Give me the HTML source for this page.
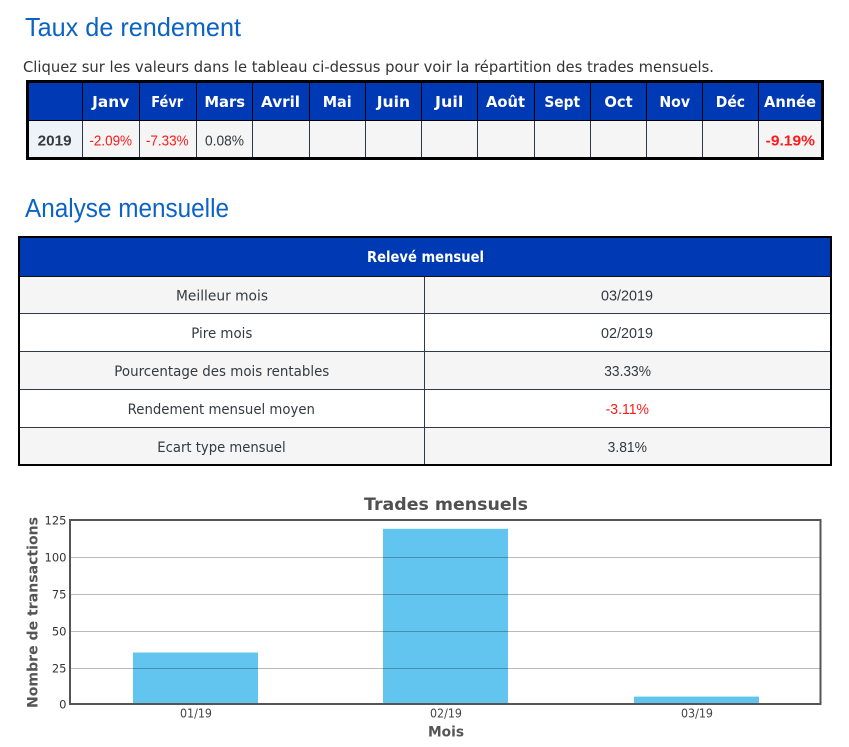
<!DOCTYPE html>
<html>
<head>
<meta charset="utf-8">
<style>
  html,body{margin:0;padding:0;background:#fff;}
  svg{display:block;}
  .h{font-family:"Liberation Sans",sans-serif;fill:#0b63c6;}
  .p{font-family:"DejaVu Sans",sans-serif;fill:#333;}
  .th{font-family:"DejaVu Sans",sans-serif;font-weight:bold;fill:#fff;font-size:15px;}
  .num{font-family:"Liberation Sans",sans-serif;font-size:15px;fill:#343a40;}
  .red{fill:#ff1a1a;}
  .lbl{font-family:"DejaVu Sans",sans-serif;font-size:14.5px;fill:#343a40;}
  .ct{font-family:"DejaVu Sans",sans-serif;}
</style>
</head>
<body>
<svg width="849" height="747" viewBox="0 0 849 747" xmlns="http://www.w3.org/2000/svg">
  <!-- Headings -->
  <text class="h" x="25" y="36" font-size="26" textLength="216" lengthAdjust="spacingAndGlyphs">Taux de rendement</text>
  <text class="p" x="23" y="72" font-size="14.7" textLength="691" lengthAdjust="spacingAndGlyphs">Cliquez sur les valeurs dans le tableau ci-dessus pour voir la répartition des trades mensuels.</text>

  <!-- Top table -->
  <rect x="29" y="83" width="792" height="37" fill="#0039b4"/>
  <rect x="29" y="121" width="792" height="36" fill="#f5f5f5"/>
  <rect x="29" y="121" width="53" height="36" fill="#eef3fa"/>
  <rect x="29" y="120" width="792" height="1" fill="#000"/>
  <g fill="#000">
    <rect x="82" y="83" width="1" height="37"/><rect x="139" y="83" width="1" height="37"/>
    <rect x="196" y="83" width="1" height="37"/><rect x="252" y="83" width="1" height="37"/>
    <rect x="309" y="83" width="1" height="37"/><rect x="365" y="83" width="1" height="37"/>
    <rect x="421" y="83" width="1" height="37"/><rect x="477" y="83" width="1" height="37"/>
    <rect x="534" y="83" width="1" height="37"/><rect x="590" y="83" width="1" height="37"/>
    <rect x="646" y="83" width="1" height="37"/><rect x="702" y="83" width="1" height="37"/>
    <rect x="758" y="83" width="1" height="37"/>
  </g>
  <g fill="#2b3648">
    <rect x="82" y="121" width="1" height="36"/><rect x="139" y="121" width="1" height="36"/>
    <rect x="196" y="121" width="1" height="36"/><rect x="252" y="121" width="1" height="36"/>
    <rect x="309" y="121" width="1" height="36"/><rect x="365" y="121" width="1" height="36"/>
    <rect x="421" y="121" width="1" height="36"/><rect x="477" y="121" width="1" height="36"/>
    <rect x="534" y="121" width="1" height="36"/><rect x="590" y="121" width="1" height="36"/>
    <rect x="646" y="121" width="1" height="36"/><rect x="702" y="121" width="1" height="36"/>
    <rect x="758" y="121" width="1" height="36"/>
  </g>
  <rect x="27.5" y="81.5" width="795" height="77" fill="none" stroke="#000" stroke-width="3"/>

  <g text-anchor="middle">
    <text class="th" x="110.7" y="107" textLength="37" lengthAdjust="spacingAndGlyphs">Janv</text>
    <text class="th" x="167.2" y="107" textLength="32" lengthAdjust="spacingAndGlyphs">Févr</text>
    <text class="th" x="224.7" y="107" textLength="40.7" lengthAdjust="spacingAndGlyphs">Mars</text>
    <text class="th" x="280.5" y="107" textLength="39" lengthAdjust="spacingAndGlyphs">Avril</text>
    <text class="th" x="337.2" y="107" textLength="29" lengthAdjust="spacingAndGlyphs">Mai</text>
    <text class="th" x="393.4" y="107" textLength="33.3" lengthAdjust="spacingAndGlyphs">Juin</text>
    <text class="th" x="449.2" y="107" textLength="28.3" lengthAdjust="spacingAndGlyphs">Juil</text>
    <text class="th" x="505.5" y="107" textLength="39" lengthAdjust="spacingAndGlyphs">Août</text>
    <text class="th" x="562.2" y="107" textLength="35.7" lengthAdjust="spacingAndGlyphs">Sept</text>
    <text class="th" x="618.5" y="107" textLength="28.3" lengthAdjust="spacingAndGlyphs">Oct</text>
    <text class="th" x="674.7" y="107" textLength="30.7" lengthAdjust="spacingAndGlyphs">Nov</text>
    <text class="th" x="730.4" y="107" textLength="29.3" lengthAdjust="spacingAndGlyphs">Déc</text>
    <text class="th" x="790" y="107" textLength="52" lengthAdjust="spacingAndGlyphs">Année</text>

    <text class="num" x="54.7" y="145.5" font-weight="bold" textLength="34" lengthAdjust="spacingAndGlyphs">2019</text>
    <text class="num red" x="110.7" y="145.5" textLength="42.7" lengthAdjust="spacingAndGlyphs">-2.09%</text>
    <text class="num red" x="167.3" y="145.5" textLength="42.7" lengthAdjust="spacingAndGlyphs">-7.33%</text>
    <text class="num" x="224.5" y="145.5" textLength="39" lengthAdjust="spacingAndGlyphs">0.08%</text>
    <text class="num red" x="790.3" y="145.5" font-weight="bold" textLength="49.3" lengthAdjust="spacingAndGlyphs">-9.19%</text>
  </g>

  <!-- Second heading -->
  <text class="h" x="25" y="217" font-size="25.5" textLength="204" lengthAdjust="spacingAndGlyphs">Analyse mensuelle</text>

  <!-- Second table -->
  <rect x="20" y="238" width="810" height="38" fill="#0039b4"/>
  <rect x="20" y="277" width="810" height="36" fill="#f5f5f5"/>
  <rect x="20" y="314" width="810" height="37" fill="#ffffff"/>
  <rect x="20" y="352" width="810" height="37" fill="#f5f5f5"/>
  <rect x="20" y="390" width="810" height="37" fill="#ffffff"/>
  <rect x="20" y="428" width="810" height="36" fill="#f5f5f5"/>
  <rect x="20" y="276" width="810" height="1" fill="#111"/>
  <g fill="#2e3a4b">
    <rect x="20" y="313" width="810" height="1"/>
    <rect x="20" y="351" width="810" height="1"/>
    <rect x="20" y="389" width="810" height="1"/>
    <rect x="20" y="427" width="810" height="1"/>
    <rect x="424" y="277" width="1" height="187"/>
  </g>
  <rect x="19" y="237" width="812" height="228" fill="none" stroke="#000" stroke-width="2"/>

  <g text-anchor="middle">
    <text class="th" x="425.5" y="262" font-size="13.5" textLength="117" lengthAdjust="spacingAndGlyphs">Relevé mensuel</text>

    <text class="lbl" x="222" y="300.5" textLength="92" lengthAdjust="spacingAndGlyphs">Meilleur mois</text>
    <text class="lbl" x="221.8" y="338" textLength="61" lengthAdjust="spacingAndGlyphs">Pire mois</text>
    <text class="lbl" x="221.8" y="376" textLength="215" lengthAdjust="spacingAndGlyphs">Pourcentage des mois rentables</text>
    <text class="lbl" x="221.3" y="414" textLength="187.3" lengthAdjust="spacingAndGlyphs">Rendement mensuel moyen</text>
    <text class="lbl" x="221.5" y="452" textLength="128.4" lengthAdjust="spacingAndGlyphs">Ecart type mensuel</text>

    <text class="num" x="627" y="300.5" textLength="52" lengthAdjust="spacingAndGlyphs">03/2019</text>
    <text class="num" x="627" y="338" textLength="52" lengthAdjust="spacingAndGlyphs">02/2019</text>
    <text class="num" x="627.6" y="376" textLength="46.7" lengthAdjust="spacingAndGlyphs">33.33%</text>
    <text class="num red" x="627.3" y="414" textLength="43.3" lengthAdjust="spacingAndGlyphs">-3.11%</text>
    <text class="num" x="627.3" y="452" textLength="39.3" lengthAdjust="spacingAndGlyphs">3.81%</text>
  </g>

  <!-- Chart -->
  <text class="ct" x="446" y="510" text-anchor="middle" font-size="17" font-weight="bold" fill="#505050" textLength="164" lengthAdjust="spacingAndGlyphs">Trades mensuels</text>

  <rect x="70" y="520" width="750" height="184" fill="#fff"/>
  <!-- bars -->
  <rect x="133" y="652.5" width="125" height="51.5" fill="#62c5f0"/>
  <rect x="383" y="528.8" width="125" height="175.2" fill="#62c5f0"/>
  <rect x="634" y="696.6" width="125" height="7.4" fill="#62c5f0"/>
  <!-- gridlines -->
  <g stroke="rgba(0,0,0,0.27)" stroke-width="1">
    <line x1="70" y1="557.5" x2="820" y2="557.5"/>
    <line x1="70" y1="594.5" x2="820" y2="594.5"/>
    <line x1="70" y1="631.5" x2="820" y2="631.5"/>
    <line x1="70" y1="668.5" x2="820" y2="668.5"/>
  </g>
  <rect x="70" y="520" width="750.5" height="184" fill="none" stroke="#555" stroke-width="2"/>

  <g class="ct" font-size="11.5" fill="#333" text-anchor="end">
    <text x="66.5" y="524.3">125</text>
    <text x="66.5" y="561.5">100</text>
    <text x="66.5" y="598.5">75</text>
    <text x="66.5" y="635.5">50</text>
    <text x="66.5" y="672.5">25</text>
    <text x="66.5" y="708.3">0</text>
  </g>
  <g class="ct" font-size="12" fill="#444" text-anchor="middle">
    <text x="196" y="717.5" textLength="32" lengthAdjust="spacingAndGlyphs">01/19</text>
    <text x="446" y="717.5" textLength="32" lengthAdjust="spacingAndGlyphs">02/19</text>
    <text x="697" y="717.5" textLength="32" lengthAdjust="spacingAndGlyphs">03/19</text>
  </g>
  <text class="ct" x="446" y="736.7" text-anchor="middle" font-size="14" font-weight="bold" fill="#555" textLength="36" lengthAdjust="spacingAndGlyphs">Mois</text>
  <text class="ct" transform="translate(37.5,612.5) rotate(-90)" x="0" y="0" text-anchor="middle" font-size="14" font-weight="bold" fill="#555" textLength="191" lengthAdjust="spacingAndGlyphs">Nombre de transactions</text>
</svg>
</body>
</html>
